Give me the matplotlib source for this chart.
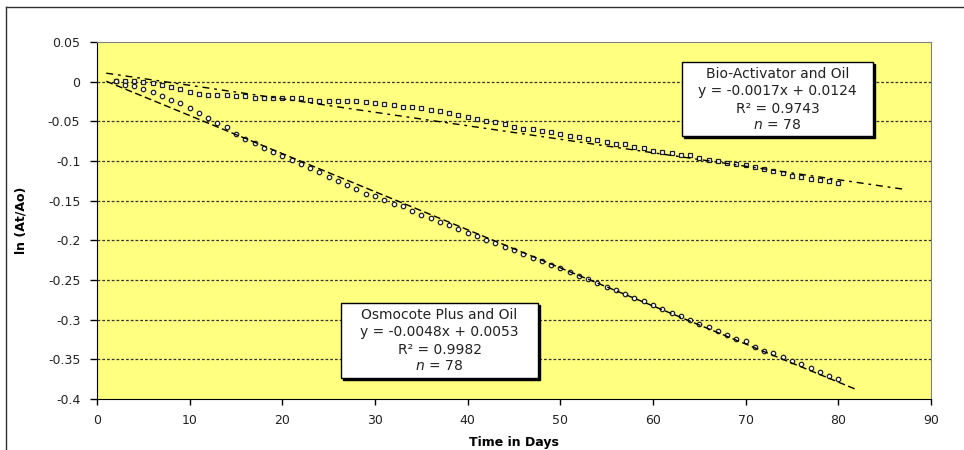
import matplotlib.pyplot as plt
import numpy as np
from matplotlib.patches import Rectangle
from matplotlib.lines import Line2D

# data
days = list(range(2, 81))

bio_oil = [0.0004, 0.0013, 0.0008, -0.0008, -0.0021, -0.0042, -0.0071, -0.0088, -0.0133, -0.015,
           -0.0163, -0.0167, -0.0171, -0.0175, -0.0179, -0.02, -0.02, -0.02, -0.02, -0.0204,
           -0.0208, -0.0233, -0.0238, -0.0238, -0.025, -0.025, -0.025, -0.0258, -0.0267, -0.0283,
           -0.03, -0.0317, -0.0325, -0.0333, -0.0352, -0.0371, -0.0396, -0.0425, -0.045, -0.0471,
           -0.0496, -0.0513, -0.0529, -0.0567, -0.0592, -0.06, -0.0625, -0.0638, -0.0658, -0.0679,
           -0.0696, -0.0721, -0.0733, -0.0763, -0.0783, -0.0783, -0.0821, -0.0838, -0.0869, -0.0886,
           -0.0904, -0.0919, -0.0923, -0.0956, -0.0986, -0.0998, -0.1019, -0.1033, -0.1056, -0.1075,
           -0.1104, -0.1129, -0.115, -0.1183, -0.1196, -0.1233, -0.1238, -0.1258, -0.1279]

osmo_oil = [0.0004, -0.0038, -0.0058, -0.0092, -0.0133, -0.0175, -0.0233, -0.0275, -0.033, -0.039,
            -0.046, -0.0517, -0.057, -0.0654, -0.0725, -0.0775, -0.083, -0.0892, -0.0933, -0.0983,
            -0.1038, -0.1088, -0.1142, -0.1196, -0.1246, -0.13, -0.1358, -0.1413, -0.1446, -0.1488,
            -0.1538, -0.157, -0.1633, -0.1683, -0.172, -0.1768, -0.1812, -0.1855, -0.1902, -0.1948,
            -0.199, -0.2035, -0.208, -0.2128, -0.2172, -0.2218, -0.2262, -0.231, -0.2352, -0.2398,
            -0.2446, -0.249, -0.2536, -0.2585, -0.263, -0.2678, -0.2722, -0.277, -0.2815, -0.2862,
            -0.291, -0.2955, -0.3002, -0.305, -0.3095, -0.3142, -0.319, -0.3246, -0.3275, -0.334,
            -0.339, -0.342, -0.3475, -0.3517, -0.3558, -0.3613, -0.3654, -0.3713, -0.3754]

# linear trendlines as printed on the chart
series_names = ['Bio-Activator and Oil', 'Osmocote Plus and Oil']
slopes = [-0.0017, -0.0048]
intercepts = [0.0124, 0.0053]
r_squared = ['0.9743', '0.9982']
n_points = [78, 78]
fit_ranges = [(1, 87), (1, 82)]

xticks = [0, 10, 20, 30, 40, 50, 60, 70, 80, 90]
yticks = [0.05, 0, -0.05, -0.1, -0.15, -0.2, -0.25, -0.3, -0.35, -0.4]
ylabels = ['0.05', '0', '-0.05', '-0.1', '-0.15', '-0.2', '-0.25', '-0.3', '-0.35', '-0.4']

W, H = 964, 450
plt.rcParams['font.family'] = ['DejaVu Sans']

fig = plt.figure(figsize=(W / 100, H / 100), dpi=100)
ax = fig.add_axes([97 / W, 1 - 399 / H, (931 - 97) / W, (399 - 42) / H])
ax.set_facecolor('#ffff80')

ax.set_xlim(0, 90)
ax.set_ylim(-0.4, 0.05)
ax.set_xticks(xticks)
ax.set_yticks(yticks)
ax.set_yticklabels(ylabels)
ax.tick_params(axis='y', direction='out', length=5, width=1, pad=7, labelsize=9, labelcolor='#222222')
ax.tick_params(axis='x', direction='out', length=4.5, width=1, pad=6.5, labelsize=9, labelcolor='#222222')

for s in ['top', 'right']:
    ax.spines[s].set_color('#808080')
for s in ['left', 'bottom']:
    ax.spines[s].set_color('black')

# dashed gridlines
for y in yticks[1:-1]:
    ax.axhline(y, color='#333333', lw=0.9, ls=(0, (2.2, 1.6)), zorder=1)

ax.plot(days, bio_oil, ls='none', marker='s', ms=3.5, mfc='white', mec='#222222', mew=0.9, zorder=3)
ax.plot(days, osmo_oil, ls='none', marker='o', ms=3.2, mfc='white', mec='#222222', mew=0.9, zorder=3)

styles = [(0, (5, 3.5, 2, 3.5)), (0, (5, 2.5))]
for i in range(2):
    xf = np.array(fit_ranges[i], dtype=float)
    ax.plot(xf, slopes[i] * xf + intercepts[i], color='black', lw=1.0, ls=styles[i], zorder=4)

ax.set_xlabel('Time in Days', fontsize=9, fontweight='bold', labelpad=6)
ax.set_ylabel('ln (At/Ao)', fontsize=9, fontweight='bold')
ax.yaxis.set_label_coords(-0.083, 0.5)


def add_box(left, top, right, bottom, lines, line_y):
    shadow = Rectangle((left / W + 2 / W, 1 - (bottom + 2) / H), (right - left) / W, (bottom - top) / H,
                       transform=fig.transFigure, facecolor='black', edgecolor='black', lw=1, zorder=5)
    box = Rectangle((left / W, 1 - bottom / H), (right - left) / W, (bottom - top) / H,
                    transform=fig.transFigure, facecolor='white', edgecolor='black', lw=1, zorder=6)
    fig.add_artist(shadow)
    fig.add_artist(box)
    cx = (left + right) / 2
    for txt, y in zip(lines, line_y):
        fig.text(cx / W, 1 - y / H, txt, ha='center', va='center', fontsize=10, color='#222222', zorder=7)


box_px = [(682, 62, 873, 136), (341, 303, 538, 378)]
for i in range(2):
    sign = '+' if intercepts[i] >= 0 else '-'
    lines = [series_names[i],
             'y = %.4fx %s %.4f' % (slopes[i], sign, abs(intercepts[i])),
             'R\u00b2 = ' + r_squared[i],
             r'$\it{n}$ = %d' % n_points[i]]
    l, t, r, b = box_px[i]
    add_box(l, t, r, b, lines, [t + 12, t + 29, t + 47, t + 63])

# outer chart frame (left and top edges visible)
fig.add_artist(Line2D([6 / W, 6 / W], [0, 1 - 7 / H], transform=fig.transFigure, color='#303030', lw=1))
fig.add_artist(Line2D([6 / W, 1], [1 - 7 / H, 1 - 7 / H], transform=fig.transFigure, color='#303030', lw=1))

fig.savefig('out.png', dpi=100)
